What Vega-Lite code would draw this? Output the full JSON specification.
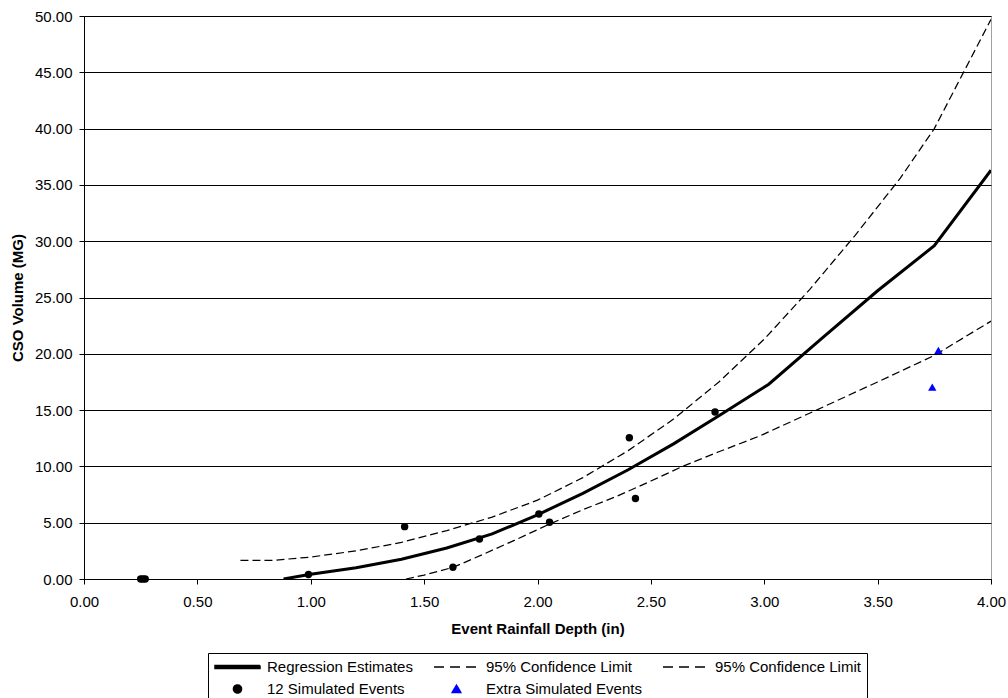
{
  "$schema": "https://vega.github.io/schema/vega-lite/v6.json",
  "width": 907,
  "height": 563,
  "autosize": {"type": "none"},
  "padding": {"left": 84, "top": 16, "right": 17, "bottom": 119},
  "background": "white",
  "view": {"stroke": "#a0a0a0", "strokeWidth": 1},
  "config": {
    "font": "Liberation Sans",
    "axis": {
      "domainColor": "black", "domainWidth": 1,
      "tickColor": "black", "tickWidth": 1, "tickSize": 5,
      "labelColor": "black", "labelFontSize": 15, "labelFont": "Liberation Sans",
      "titleColor": "black", "titleFontSize": 15, "titleFontWeight": "bold", "titleFont": "Liberation Sans",
      "gridColor": "black", "gridOpacity": 1, "gridWidth": 1,
      "labelFlush": false, "labelOverlap": false
    }
  },
  "data": {
    "values": [
      {"series": "Regression Estimates", "depth": 0.88, "volume": 0},
      {"series": "Regression Estimates", "depth": 1.0, "volume": 0.42},
      {"series": "Regression Estimates", "depth": 1.2, "volume": 1.0},
      {"series": "Regression Estimates", "depth": 1.4, "volume": 1.75},
      {"series": "Regression Estimates", "depth": 1.6, "volume": 2.75},
      {"series": "Regression Estimates", "depth": 1.8, "volume": 4.0},
      {"series": "Regression Estimates", "depth": 2.0, "volume": 5.7},
      {"series": "Regression Estimates", "depth": 2.2, "volume": 7.6},
      {"series": "Regression Estimates", "depth": 2.4, "volume": 9.7},
      {"series": "Regression Estimates", "depth": 2.6, "volume": 12.0},
      {"series": "Regression Estimates", "depth": 2.8, "volume": 14.5},
      {"series": "Regression Estimates", "depth": 3.02, "volume": 17.3},
      {"series": "Regression Estimates", "depth": 3.25, "volume": 21.3},
      {"series": "Regression Estimates", "depth": 3.5, "volume": 25.6},
      {"series": "Regression Estimates", "depth": 3.75, "volume": 29.6},
      {"series": "Regression Estimates", "depth": 4.0, "volume": 36.3},
      {"series": "Upper 95% Confidence Limit", "depth": 0.69, "volume": 1.65},
      {"series": "Upper 95% Confidence Limit", "depth": 0.83, "volume": 1.65},
      {"series": "Upper 95% Confidence Limit", "depth": 1.0, "volume": 1.95},
      {"series": "Upper 95% Confidence Limit", "depth": 1.2, "volume": 2.5},
      {"series": "Upper 95% Confidence Limit", "depth": 1.4, "volume": 3.25},
      {"series": "Upper 95% Confidence Limit", "depth": 1.6, "volume": 4.3},
      {"series": "Upper 95% Confidence Limit", "depth": 1.8, "volume": 5.5},
      {"series": "Upper 95% Confidence Limit", "depth": 2.0, "volume": 7.0},
      {"series": "Upper 95% Confidence Limit", "depth": 2.2, "volume": 9.0},
      {"series": "Upper 95% Confidence Limit", "depth": 2.4, "volume": 11.4},
      {"series": "Upper 95% Confidence Limit", "depth": 2.6, "volume": 14.2},
      {"series": "Upper 95% Confidence Limit", "depth": 2.8, "volume": 17.5},
      {"series": "Upper 95% Confidence Limit", "depth": 3.0, "volume": 21.3},
      {"series": "Upper 95% Confidence Limit", "depth": 3.2, "volume": 25.7},
      {"series": "Upper 95% Confidence Limit", "depth": 3.4, "volume": 30.5},
      {"series": "Upper 95% Confidence Limit", "depth": 3.6, "volume": 35.6},
      {"series": "Upper 95% Confidence Limit", "depth": 3.75, "volume": 40.0},
      {"series": "Upper 95% Confidence Limit", "depth": 4.0, "volume": 49.7},
      {"series": "Lower 95% Confidence Limit", "depth": 1.42, "volume": 0},
      {"series": "Lower 95% Confidence Limit", "depth": 1.5, "volume": 0.35},
      {"series": "Lower 95% Confidence Limit", "depth": 1.63, "volume": 1.05},
      {"series": "Lower 95% Confidence Limit", "depth": 1.75, "volume": 2.1},
      {"series": "Lower 95% Confidence Limit", "depth": 1.9, "volume": 3.45},
      {"series": "Lower 95% Confidence Limit", "depth": 2.05, "volume": 4.85},
      {"series": "Lower 95% Confidence Limit", "depth": 2.2, "volume": 6.15},
      {"series": "Lower 95% Confidence Limit", "depth": 2.35, "volume": 7.35},
      {"series": "Lower 95% Confidence Limit", "depth": 2.5, "volume": 8.7},
      {"series": "Lower 95% Confidence Limit", "depth": 2.64, "volume": 10.0},
      {"series": "Lower 95% Confidence Limit", "depth": 2.8, "volume": 11.3},
      {"series": "Lower 95% Confidence Limit", "depth": 2.98, "volume": 12.7},
      {"series": "Lower 95% Confidence Limit", "depth": 3.23, "volume": 15.0},
      {"series": "Lower 95% Confidence Limit", "depth": 3.5, "volume": 17.5},
      {"series": "Lower 95% Confidence Limit", "depth": 3.75, "volume": 19.85},
      {"series": "Lower 95% Confidence Limit", "depth": 4.0, "volume": 22.9},
      {"series": "12 Simulated Events", "depth": 0.25, "volume": 0},
      {"series": "12 Simulated Events", "depth": 0.26, "volume": 0},
      {"series": "12 Simulated Events", "depth": 0.27, "volume": 0},
      {"series": "12 Simulated Events", "depth": 0.99, "volume": 0.4},
      {"series": "12 Simulated Events", "depth": 1.414, "volume": 4.65},
      {"series": "12 Simulated Events", "depth": 1.627, "volume": 1.05},
      {"series": "12 Simulated Events", "depth": 1.744, "volume": 3.55},
      {"series": "12 Simulated Events", "depth": 2.006, "volume": 5.78},
      {"series": "12 Simulated Events", "depth": 2.053, "volume": 5.04},
      {"series": "12 Simulated Events", "depth": 2.405, "volume": 12.55},
      {"series": "12 Simulated Events", "depth": 2.432, "volume": 7.15},
      {"series": "12 Simulated Events", "depth": 2.783, "volume": 14.83},
      {"series": "Extra Simulated Events", "depth": 3.768, "volume": 20.3},
      {"series": "Extra Simulated Events", "depth": 3.741, "volume": 17.05}
    ]
  },
  "encoding": {
    "x": {
      "field": "depth", "type": "quantitative",
      "scale": {"domain": [0, 4], "nice": false, "zero": false},
      "axis": {
        "title": "Event Rainfall Depth (in)",
        "values": [0, 0.5, 1, 1.5, 2, 2.5, 3, 3.5, 4],
        "format": ".2f", "grid": false,
        "labelBaseline": "middle", "labelPadding": 17,
        "titleX": 453.5, "titleY": 49, "titleBaseline": "middle", "titleAlign": "center"
      }
    },
    "y": {
      "field": "volume", "type": "quantitative",
      "scale": {"domain": [0, 50], "nice": false},
      "axis": {
        "title": "CSO Volume (MG)",
        "values": [0, 5, 10, 15, 20, 25, 30, 35, 40, 45, 50],
        "format": ".2f", "grid": true,
        "labelPadding": 7,
        "titleX": -67, "titleY": 281.5, "titleAngle": 270, "titleBaseline": "middle", "titleAlign": "center"
      }
    },
    "color": {
      "field": "series", "type": "nominal",
      "scale": {
        "domain": ["Regression Estimates", "Upper 95% Confidence Limit", "Lower 95% Confidence Limit", "12 Simulated Events", "Extra Simulated Events"],
        "range": ["black", "black", "black", "black", "blue"]
      },
      "legend": {
        "orient": "none", "legendX": 124, "legendY": 637,
        "direction": "horizontal",
        "columns": 3, "title": null,
        "strokeColor": "black", "fillColor": "white", "padding": 6,
        "clipHeight": 16, "rowPadding": 6, "columnPadding": 20,
        "symbolSize": 2025, "symbolStrokeWidth": 1.5, "labelOffset": 6,
        "labelFontSize": 15, "labelFont": "Liberation Sans", "labelColor": "black", "labelLimit": 300,
        "labelExpr": "indexof(datum.label, 'Confidence') >= 0 ? '95% Confidence Limit' : datum.label",
        "encode": {
          "symbols": {
            "update": {
              "shape": {"signal": "datum.value == '12 Simulated Events' ? 'M -0.18 0 A 0.18 0.18 0 1 0 0.18 0 A 0.18 0.18 0 1 0 -0.18 0 Z' : datum.value == 'Extra Simulated Events' ? 'M 0 -0.17 L 0.19 0.15 L -0.19 0.15 Z' : datum.value == 'Regression Estimates' ? 'M -1 -0.067 L 1 -0.067 L 1 0.067 L -1 0.067 Z' : 'stroke'"},
              "size": {"value": 2025},
              "fill": {"signal": "datum.value == '12 Simulated Events' || datum.value == 'Regression Estimates' ? 'black' : datum.value == 'Extra Simulated Events' ? 'blue' : 'transparent'"},
              "stroke": {"signal": "datum.value == '12 Simulated Events' || datum.value == 'Extra Simulated Events' || datum.value == 'Regression Estimates' ? 'transparent' : 'black'"},
              "strokeWidth": {"value": 1.5},
              "strokeDash": {"signal": "datum.value == 'Regression Estimates' || datum.value == '12 Simulated Events' || datum.value == 'Extra Simulated Events' ? [1, 0] : [10, 6]"},
              "opacity": {"value": 1}
            }
          }
        }
      }
    }
  },
  "layer": [
    {
      "transform": [{"filter": "datum.series == 'Upper 95% Confidence Limit'"}],
      "mark": {"type": "line", "strokeWidth": 1.25, "strokeDash": [8, 4], "clip": true}
    },
    {
      "transform": [{"filter": "datum.series == 'Lower 95% Confidence Limit'"}],
      "mark": {"type": "line", "strokeWidth": 1.25, "strokeDash": [8, 4], "clip": true}
    },
    {
      "transform": [{"filter": "datum.series == 'Regression Estimates'"}],
      "mark": {"type": "line", "strokeWidth": 3, "clip": true}
    },
    {
      "transform": [{"filter": "datum.series == '12 Simulated Events'"}],
      "mark": {"type": "point", "shape": "circle", "filled": true, "size": 55, "opacity": 1}
    },
    {
      "transform": [{"filter": "datum.series == 'Extra Simulated Events'"}],
      "mark": {"type": "point", "shape": "triangle-up", "filled": true, "size": 70, "opacity": 1}
    }
  ]
}
